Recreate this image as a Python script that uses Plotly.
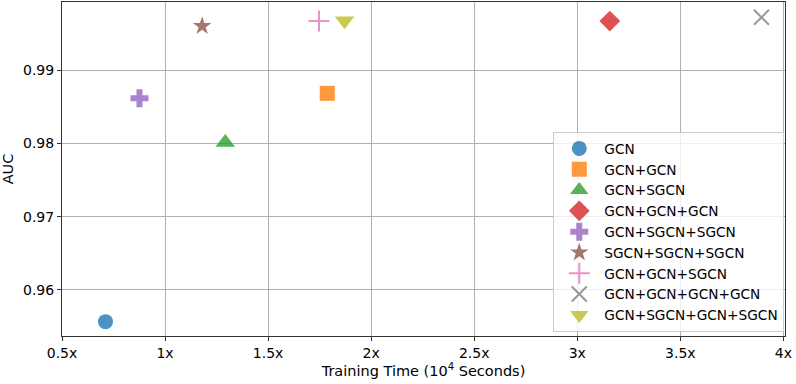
import plotly.graph_objects as go

names = ["GCN", "GCN+GCN", "GCN+SGCN", "GCN+GCN+GCN", "GCN+SGCN+SGCN",
         "SGCN+SGCN+SGCN", "GCN+GCN+SGCN", "GCN+GCN+GCN+GCN", "GCN+SGCN+GCN+SGCN"]
train_time = [0.711, 1.787, 1.292, 3.158, 0.876, 1.180, 1.747, 3.894, 1.871]
auc = [0.95568, 0.98682, 0.98010, 0.99668, 0.98614, 0.99600, 0.99668, 0.99719, 0.99673]
colors = ["#1f77b4", "#ff7f0e", "#2ca02c", "#d62728", "#9467bd",
          "#8c564b", "#e377c2", "#7f7f7f", "#bcbd22"]
symbols = ["circle", "square", "triangle-up", "diamond", "cross",
           "star", "cross-thin", "x-thin", "triangle-down"]
sizes = [15, 15, 17, 16, 15, 14, 15, 15, 17]
x_ticks = [0.5, 1, 1.5, 2, 2.5, 3, 3.5, 4]
x_tick_labels = ["0.5x", "1x", "1.5x", "2x", "2.5x", "3x", "3.5x", "4x"]
y_ticks = [0.96, 0.97, 0.98, 0.99]
y_tick_labels = ["0.96", "0.97", "0.98", "0.99"]

fig = go.Figure()
for n, xv, yv, c, s, sz in zip(names, train_time, auc, colors, symbols, sizes):
    thin = s.endswith("-thin")
    fig.add_trace(go.Scatter(
        x=[xv], y=[yv], mode="markers", name=n,
        marker=dict(symbol=s, size=sz, color=c, opacity=0.8,
                    line=dict(width=2 if thin else 0, color=c)),
    ))

font = "DejaVu Sans, sans-serif"
fig.update_layout(
    width=796, height=384,
    margin=dict(l=62, r=11, t=2, b=48),
    paper_bgcolor="white", plot_bgcolor="white",
    font=dict(family=font, size=14, color="black"),
    showlegend=True,
    legend=dict(x=0.999, y=0.012, xanchor="right", yanchor="bottom",
                bgcolor="rgba(255,255,255,0.8)", bordercolor="#cccccc", borderwidth=1,
                font=dict(size=13.7, family=font), tracegroupgap=0, itemwidth=40),
    xaxis=dict(range=[0.5, 4.008], tickvals=x_ticks, ticktext=x_tick_labels,
               showgrid=True, gridcolor="#b0b0b0", gridwidth=1, automargin=False,
               showline=True, linecolor="#333333", linewidth=1, mirror=True,
               ticks="outside", ticklen=4, tickcolor="#333333", zeroline=False,
               tickfont=dict(size=14),
               title=dict(text="Training Time (10<sup>4</sup> Seconds)", standoff=4,
                          font=dict(size=14.5))),
    yaxis=dict(range=[0.95372, 0.99928], tickvals=y_ticks, ticktext=y_tick_labels,
               showgrid=True, gridcolor="#b0b0b0", gridwidth=1, automargin=False,
               showline=True, linecolor="#333333", linewidth=1, mirror=True,
               ticks="outside", ticklen=4, tickcolor="#333333", zeroline=False,
               tickfont=dict(size=14),
               title=dict(text="AUC", standoff=6, font=dict(size=14.5))),
)
fig.write_html("out.html", config={"displayModeBar": False},
               post_script="document.body.style.margin='0';")
